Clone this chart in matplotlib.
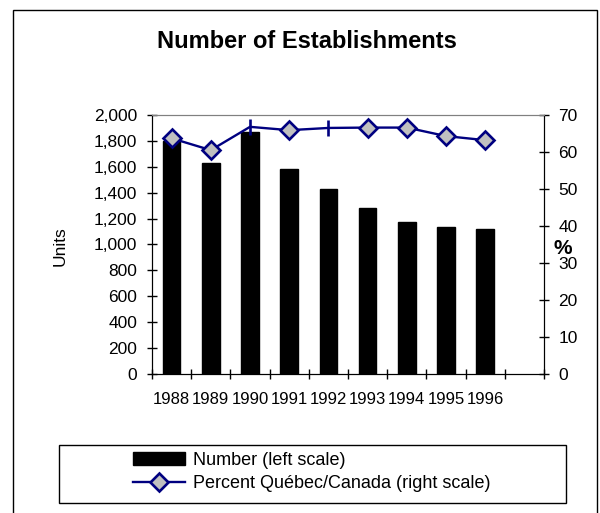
import matplotlib
matplotlib.use("Agg")
import matplotlib.pyplot as plt
from matplotlib.lines import Line2D
from matplotlib.patches import Rectangle
from matplotlib.ticker import FuncFormatter

plt.rcParams['font.family'] = ['Liberation Sans', 'DejaVu Sans']

# data
years = ['1988', '1989', '1990', '1991', '1992', '1993', '1994', '1995', '1996']
establishments = [1800, 1630, 1865, 1585, 1425, 1282, 1172, 1133, 1121]
pct_quebec = [63.7, 60.5, 66.8, 65.9, 66.5, 66.6, 66.6, 64.3, 63.2]
# points drawn as a vertical dash instead of a diamond in the original
dash_years = ['1990', '1992']

navy = '#000080'
n_slots = len(years) + 1   # the category axis has one empty slot at the end

fig = plt.figure(figsize=(6, 5.13), dpi=100)
ax = fig.add_axes([152 / 600, 139 / 513, 392 / 600, 259 / 513])
ax2 = ax.twinx()

x = list(range(len(years)))
bars = ax.bar(x, establishments, width=0.45, color='black', edgecolor='black',
              label='Number (left scale)')

ax.set_xlim(-0.5, n_slots - 0.5)
ax.set_ylim(0, 2000)
ax.set_yticks(range(0, 2001, 200))
ax.yaxis.set_major_formatter(FuncFormatter(lambda v, p: f'{int(v):,}'))

# category boundaries carry the tick marks, labels sit at the centres
ax.set_xticks([i - 0.5 for i in range(n_slots + 1)])
ax.set_xticklabels([])
ax.set_xticks(x, minor=True)
ax.set_xticklabels(years, minor=True)
ax.tick_params(axis='x', which='minor', length=0, pad=13, labelsize=12)
ax.tick_params(axis='x', which='major', direction='inout', length=7, width=1)
ax.tick_params(axis='y', direction='inout', length=7, width=1, labelsize=12.5, pad=7)

ax2.set_ylim(0, 70)
ax2.set_yticks(range(0, 71, 10))
ax2.tick_params(axis='y', direction='inout', length=7, width=1, labelsize=12.5, pad=7)

ax2.plot(x, pct_quebec, color=navy, lw=1.7, zorder=3)
dx = [i for i, y in enumerate(years) if y not in dash_years]
ax2.plot(dx, [pct_quebec[i] for i in dx], ls='none', marker='D', ms=9.5,
         mfc='#c0c0c0', mec=navy, mew=1.9, zorder=4)
vx = [i for i, y in enumerate(years) if y in dash_years]
ax2.plot(vx, [pct_quebec[i] for i in vx], ls='none', marker='|', ms=11.5,
         mec=navy, mew=1.9, zorder=4)

for a in (ax, ax2):
    a.spines['top'].set_color('#808080')
    a.spines['left'].set_color('black')
    a.spines['right'].set_color('black')
    a.spines['bottom'].set_color('black')

fig.text(306.5 / 600, 1 - 41 / 513, 'Number of Establishments', ha='center', va='center',
         fontsize=17, fontweight='bold')
fig.text(60 / 600, 1 - 246 / 513, 'Units', rotation=90, ha='center', va='center', fontsize=12.5)
fig.text(563 / 600, 1 - 248 / 513, '%', ha='center', va='center', fontsize=15, fontweight='bold')

# outer chart border (bottom edge runs off the image)
fig.patches.append(Rectangle((13 / 600, -0.05), 584 / 600, 1.05 - 10 / 513,
                             transform=fig.transFigure, fill=False, ec='black', lw=1,
                             clip_on=False))

# legend box, wider than its contents
fig.patches.append(Rectangle((59 / 600, 1 - 503 / 513), 507 / 600, 58 / 513,
                             transform=fig.transFigure, fill=False, ec='black', lw=1))
line_handle = Line2D([], [], color=navy, lw=1.7, marker='D', ms=9.5,
                     mfc='#c0c0c0', mec=navy, mew=1.9)
fig.legend([bars, line_handle], ['Number (left scale)', 'Percent Québec/Canada (right scale)'],
           loc='center left', bbox_to_anchor=(133 / 600, 1 - 472 / 513), frameon=False,
           borderpad=0, borderaxespad=0, handlelength=2.9, handletextpad=0.4,
           labelspacing=0.35, fontsize=13)

fig.savefig('out.png', dpi=100)
